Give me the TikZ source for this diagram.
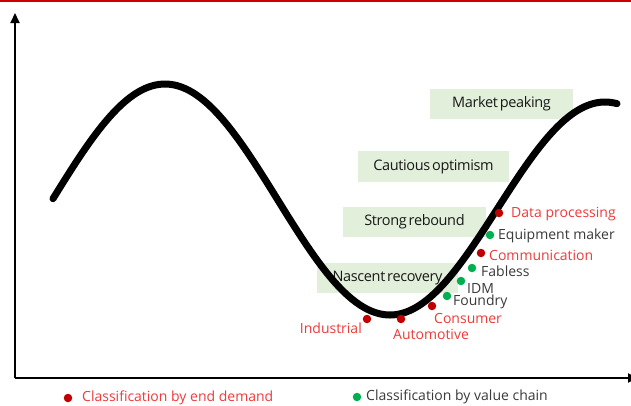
\documentclass[tikz,border=0pt]{standalone}
\usepackage{fontspec}
\setmainfont{Open Sans}
\newfontfamily\tightfont[LetterSpace=-2.5,WordSpace=0.55]{Open Sans}
\usetikzlibrary{arrows.meta}
\definecolor{phasefill}{HTML}{E2EFDA}
\definecolor{demandred}{HTML}{C00000}
\definecolor{demandtext}{HTML}{EE3B3B}
\definecolor{chaingreen}{HTML}{00B050}
\definecolor{chaintext}{HTML}{3A3A3A}
\definecolor{topline}{HTML}{CC0000}
\tikzset{
  phasebox/.style={fill=phasefill, inner sep=0pt, font=\tightfont\fontsize{14.5}{16}\selectfont, text=black!90},
  reddot/.style={circle, fill=demandred, inner sep=0pt, minimum size=8.5pt},
  greendot/.style={circle, fill=chaingreen, inner sep=0pt, minimum size=8.5pt},
  redlabel/.style={text=demandtext, inner sep=0pt, font=\fontsize{14}{16}\selectfont},
  greenlabel/.style={text=chaintext, inner sep=0pt, font=\fontsize{14}{16}\selectfont},
  axis/.style={line width=2pt, -{Triangle[length=10pt,width=9pt]}},
  cycle/.style={line width=7pt, line cap=round, line join=round}
}
\begin{document}
\begin{tikzpicture}[x=1pt,y=-1pt]
\useasboundingbox (0,0) rectangle (631,405);
\fill[white] (0,0) rectangle (631,405);
\fill[topline] (0,0) rectangle (631,1.5);

% phase boxes
\node[phasebox, minimum width=143pt, minimum height=30pt] (peak) at (501.5,104) {Market peaking};
\node[phasebox, minimum width=151pt, minimum height=31pt] (caution) at (433.5,166.5) {Cautious optimism};
\node[phasebox, minimum width=143pt, minimum height=30pt] (rebound) at (414.5,222) {Strong rebound};
\node[phasebox, minimum width=141pt, minimum height=30pt] (nascent) at (387.5,278) {Nascent recovery};

% axes
\coordinate (origin) at (15,378);
\coordinate (ytop) at (15,13);
\coordinate (xend) at (638,378);
\draw[axis] (origin) -- (ytop);
\draw[axis] (origin) -- (xend);

% business cycle curve
\draw[cycle]
  plot[domain=53:390, samples=90] (\x, {199.5-115.5*cos((\x-165)*(180/225))})
  -- plot[domain=390:617, samples=70] (\x, {208.5+106.5*cos((\x-390)*(180/215))});

% segments along the recovery
\node[reddot] (dp) at (499,213) {};
\node[redlabel, anchor=west] (dpl) at (511,214) {Data processing};
\node[greendot] (em) at (490,235) {};
\node[greenlabel, anchor=west] (eml) at (498,236) {Equipment maker};
\node[reddot] (co) at (481,253) {};
\node[redlabel, anchor=west] (col) at (489,255) {Communication};
\node[greendot] (fa) at (472,268) {};
\node[greenlabel, anchor=west] (fal) at (481,271) {Fabless};
\node[greendot] (idm) at (461,281) {};
\node[greenlabel, anchor=west] (idml) at (467,288) {IDM};
\node[greendot] (fo) at (447,296) {};
\node[greenlabel, anchor=west] (fol) at (453,302) {Foundry};
\node[reddot] (cs) at (432,306) {};
\node[redlabel, anchor=west] (csl) at (434,318) {Consumer};
\node[reddot] (au) at (401,319) {};
\node[redlabel, anchor=west] (aul) at (393,334) {Automotive};
\node[reddot] (in) at (367,319) {};
\node[redlabel, anchor=east] (inl) at (362,328) {Industrial};

% legend
\node[reddot] (legred) at (68,398) {};
\node[redlabel, anchor=west] (legredl) at (82,398) {Classification by end demand};
\node[greendot] (leggreen) at (357,397) {};
\node[greenlabel, anchor=west] (leggreenl) at (366,397) {Classification by value chain};
\end{tikzpicture}
\end{document}
